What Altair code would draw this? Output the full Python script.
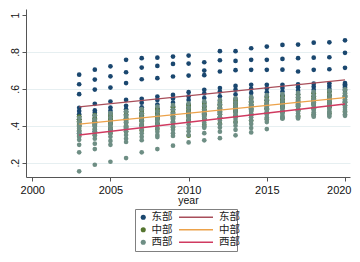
import altair as alt
import pandas as pd

years = list(range(2003, 2021))

# 东部 (11 per year)
east = [
    [.677, .625, .571, .497, .480, .463, .449, .435, .420, .400, .360],
    [.704, .650, .596, .519, .483, .470, .455, .440, .425, .405, .370],
    [.722, .668, .607, .531, .499, .482, .466, .450, .432, .410, .380],
    [.757, .690, .631, .540, .508, .490, .475, .460, .440, .420, .390],
    [.766, .715, .652, .546, .525, .500, .485, .468, .450, .430, .400],
    [.769, .724, .658, .558, .540, .515, .495, .478, .460, .440, .410],
    [.775, .735, .667, .567, .548, .525, .505, .488, .470, .448, .420],
    [.780, .737, .672, .582, .560, .540, .515, .498, .478, .455, .430],
    [.744, .699, .674, .595, .575, .550, .525, .505, .485, .462, .438],
    [.804, .755, .694, .604, .585, .560, .535, .515, .495, .470, .445],
    [.804, .751, .701, .616, .595, .570, .545, .525, .503, .480, .452],
    [.820, .757, .703, .622, .600, .578, .552, .532, .510, .488, .460],
    [.829, .757, .703, .622, .603, .582, .558, .538, .518, .495, .468],
    [.838, .762, .704, .622, .605, .585, .565, .545, .525, .502, .475],
    [.840, .766, .694, .625, .608, .590, .570, .552, .530, .510, .485],
    [.850, .769, .703, .628, .612, .595, .578, .558, .538, .518, .495],
    [.852, .771, .706, .630, .615, .600, .585, .565, .545, .525, .505],
    [.863, .795, .714, .631, .625, .618, .610, .604, .590, .560, .530],
]

# 中部 (8 per year)
central = [
    [.450, .435, .425, .415, .405, .395, .375, .345],
    [.458, .442, .432, .422, .412, .400, .382, .350],
    [.465, .450, .440, .430, .420, .408, .390, .360],
    [.475, .460, .448, .438, .428, .415, .398, .368],
    [.485, .468, .457, .447, .437, .424, .405, .375],
    [.490, .477, .465, .455, .445, .432, .412, .383],
    [.500, .485, .474, .463, .452, .440, .420, .390],
    [.510, .494, .482, .470, .460, .447, .428, .346],
    [.518, .502, .490, .479, .468, .455, .436, .405],
    [.525, .510, .499, .488, .476, .463, .444, .412],
    [.535, .520, .508, .496, .485, .472, .452, .420],
    [.545, .528, .516, .505, .493, .480, .460, .428],
    [.552, .536, .524, .513, .501, .488, .468, .436],
    [.560, .545, .533, .521, .509, .496, .476, .444],
    [.568, .552, .541, .529, .517, .504, .484, .452],
    [.576, .560, .549, .537, .525, .512, .492, .460],
    [.585, .568, .557, .545, .533, .520, .500, .468],
    [.595, .577, .565, .553, .541, .528, .508, .476],
]

# 西部 (11 per year)
west = [
    [.443, .420, .400, .385, .370, .355, .340, .324, .297, .256, .153],
    [.455, .432, .412, .396, .380, .364, .348, .330, .303, .274, .189],
    [.468, .445, .425, .408, .392, .376, .360, .340, .318, .297, .205],
    [.478, .456, .436, .418, .402, .386, .370, .350, .330, .312, .225],
    [.490, .466, .446, .428, .412, .396, .380, .360, .340, .322, .256],
    [.504, .478, .456, .438, .422, .406, .388, .368, .350, .339, .274],
    [.512, .488, .466, .448, .432, .416, .398, .378, .360, .345, .292],
    [.522, .498, .476, .458, .442, .426, .408, .388, .370, .350, .310],
    [.532, .508, .486, .468, .452, .436, .418, .398, .389, .360, .321],
    [.540, .517, .496, .478, .462, .446, .428, .408, .390, .368, .333],
    [.548, .525, .505, .487, .471, .455, .437, .418, .400, .378, .348],
    [.556, .533, .513, .495, .480, .464, .446, .428, .410, .388, .364],
    [.566, .543, .523, .506, .490, .475, .460, .446, .434, .420, .382],
    [.572, .550, .530, .513, .498, .484, .470, .458, .448, .442, .438],
    [.578, .556, .537, .520, .505, .491, .478, .466, .455, .446, .440],
    [.584, .562, .543, .527, .512, .498, .485, .473, .462, .454, .449],
    [.590, .568, .549, .533, .518, .504, .491, .479, .468, .458, .450],
    [.597, .575, .556, .540, .525, .511, .498, .486, .474, .462, .454],
]

regions = ["东部", "中部", "西部"]
point_colors = ["#1a476f", "#55752f", "#6e8e84"]

fit_keys = ["东部线", "中部线", "西部线"]
line_colors = ["#a84e5a", "#eca24a", "#d03a60"]
fit_years = [2003, 2020]
fit_start = [0.502, 0.409, 0.350]
fit_end = [0.649, 0.553, 0.518]

x_ticks = [2000, 2005, 2010, 2015, 2020]
y_ticks = [0.2, 0.4, 0.6, 0.8, 1.0]

rows = []
for reg, series in zip(regions, [east, central, west]):
    for yr, vals in zip(years, series):
        for v in vals:
            rows.append({"year": yr, "value": v, "region": reg})
df_pts = pd.DataFrame(rows)

lrows = []
for k, s, e in zip(fit_keys, fit_start, fit_end):
    lrows.append({"year": fit_years[0], "value": s, "fit": k})
    lrows.append({"year": fit_years[1], "value": e, "fit": k})
df_fit = pd.DataFrame(lrows)

xs = alt.Scale(domain=[1999.6, 2020.32], nice=False, zero=False)
ys = alt.Scale(domain=[0.1225, 1.0325], nice=False, zero=False)

x_axis = alt.Axis(values=x_ticks, format="d", title="year", grid=False,
                  domainColor="#555", tickColor="#555", tickSize=4,
                  labelFont="Liberation Sans", labelFontSize=11, labelColor="#111",
                  labelPadding=3, labelFlush=5.5, labelFlushOffset=6,
                  titleFont="Liberation Sans", titleFontSize=10.5,
                  titleFontWeight="normal", titleColor="#111", titlePadding=0)
y_axis = alt.Axis(values=y_ticks, title=None, labelAngle=270,
                  labelExpr="datum.value >= 0.99 ? '1' : slice(format(datum.value, '.1f'), 1)",
                  domainColor="#555", tickColor="#555", tickSize=4,
                  labelFont="Liberation Sans", labelFontSize=10.5, labelColor="#111",
                  labelPadding=2, gridColor="#e6eff1", gridWidth=1,
                  gridOpacity={"condition": {"test": "datum.value >= 0.99", "value": 0}, "value": 1})

pts = alt.Chart(df_pts).mark_circle(size=22, opacity=1).encode(
    x=alt.X("year:Q", scale=xs, axis=x_axis),
    y=alt.Y("value:Q", scale=ys, axis=y_axis),
    color=alt.Color("region:N", sort=regions,
                    scale=alt.Scale(domain=regions, range=point_colors),
                    legend=alt.Legend(orient="none", legendX=109, legendY=200,
                                      direction="vertical", title="东部东部东部",
                                      titleOrient="right", titleOpacity=0,
                                      titleFont="Noto Sans CJK SC", titleFontSize=9.3,
                                      titlePadding=6, strokeColor="#808080",
                                      padding=3, labelFont="Noto Sans CJK SC",
                                      labelFontSize=10.5, labelColor="#222",
                                      symbolType="circle", symbolSize=26,
                                      rowPadding=1.5, labelOffset=3)),
    order=alt.Order("rank:Q"),
).transform_calculate(rank="datum.region == '东部' ? 0 : (datum.region == '中部' ? 1 : 2)")

lines = alt.Chart(df_fit).mark_line(strokeWidth=1.3).encode(
    x=alt.X("year:Q", scale=xs),
    y=alt.Y("value:Q", scale=ys),
    stroke=alt.Stroke("fit:N", sort=fit_keys,
                      scale=alt.Scale(domain=fit_keys, range=line_colors),
                      legend=alt.Legend(orient="none", legendX=152, legendY=203,
                                        direction="vertical", title=None,
                                        symbolType="stroke", symbolSize=1156,
                                        symbolStrokeWidth=1.4, clipHeight=10.5,
                                        labelExpr="slice(datum.label, 0, 2)",
                                        labelFont="Noto Sans CJK SC", labelFontSize=10.5,
                                        labelColor="#222", labelOffset=5,
                                        rowPadding=1.5, padding=0)),
)

chart = alt.layer(pts, lines).properties(
    width=324, height=168,
    autosize=alt.AutoSizeParams(type="none"),
    padding={"left": 18, "top": 1, "right": 2, "bottom": 77},
    background="white",
).configure_view(strokeWidth=0)

chart.save("out.html", embed_options={"renderer": "svg", "actions": False})
